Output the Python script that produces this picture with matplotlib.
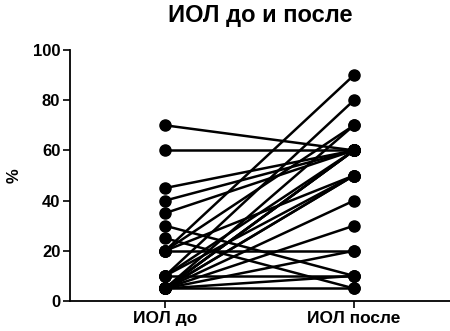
import numpy as np
import matplotlib.pyplot as plt

plt.rcParams['font.family'] = ['Liberation Sans', 'DejaVu Sans']

# paired values, % before and after
before = [70, 60, 45, 40, 35, 30, 25, 20, 20, 20, 20, 10, 10, 10, 10,
          5, 5, 5, 5, 5, 5, 5, 5, 5, 5, 5]
after = [60, 60, 60, 60, 60, 10, 5, 20, 50, 90, 70, 60, 80, 50, 10,
         70, 60, 60, 50, 40, 30, 20, 10, 5, 60, 50]
groups = ['ИОЛ до', 'ИОЛ после']
yticks = [0, 20, 40, 60, 80, 100]

fig = plt.figure(figsize=(4.5, 3.31), dpi=100)
ax = fig.add_axes([70 / 450, 30 / 331, 380 / 450, 251 / 331])

for b, a in zip(before, after):
    ax.plot([0, 1], [b, a], color='black', lw=1.8, marker='o',
            markersize=8, solid_capstyle='round', zorder=3)

ax.set_xlim(-0.503, 1.508)
ax.set_ylim(0, 100)
ax.set_xticks([0, 1])
ax.set_xticklabels(groups, fontsize=12.5, fontweight='bold')
ax.set_yticks(yticks)
ax.set_yticklabels([str(v) for v in yticks], fontsize=12, fontweight='bold')
ax.tick_params(axis='both', direction='out', length=5, width=1.2, pad=2)
ax.spines['top'].set_visible(False)
ax.spines['right'].set_visible(False)
ax.spines['left'].set_linewidth(1.3)
ax.spines['bottom'].set_linewidth(1.3)
ax.set_ylabel('%', fontsize=12, fontweight='bold', labelpad=8)
ax.set_title('ИОЛ до и после', fontsize=17, fontweight='bold', pad=20)
for spine in ax.spines.values():
    spine.set_clip_on(False)

fig.savefig('out.png', dpi=100)
